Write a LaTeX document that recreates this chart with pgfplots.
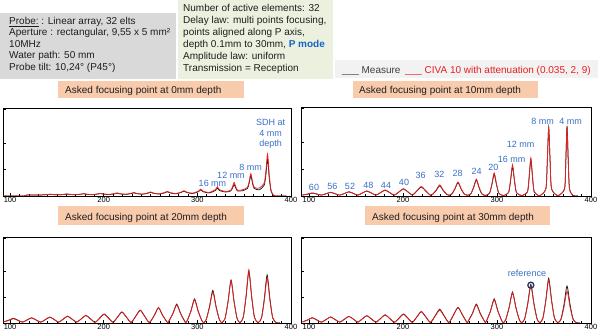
\documentclass[border=0pt]{standalone}
\usepackage{pgfplots}
\pgfplotsset{compat=1.18}
\usepackage{pgfplotstable}
\usepackage{fontspec}
\setmainfont{Liberation Sans}
\newcommand{\fs}[1]{\fontsize{#1}{#1}\selectfont}
\definecolor{grayfill}{RGB}{217,217,217}
\definecolor{greenfill}{RGB}{235,241,222}
\definecolor{legfill}{RGB}{242,242,242}
\definecolor{orangefill}{RGB}{248,203,173}
\definecolor{blueann}{RGB}{55,110,200}
\definecolor{pmode}{RGB}{20,100,200}
\definecolor{civared}{RGB}{235,30,30}
\definecolor{measblack}{RGB}{25,25,25}
\definecolor{textdark}{RGB}{30,30,30}
\definecolor{navy}{RGB}{31,56,100}
\definecolor{measgray}{RGB}{64,64,64}

% Panel 1: focusing at 0 mm
\pgfplotstableread{
x m c
92.5 0 0
115 0 0
118 0.012 0.010
133 0.012 0.012
139.9 0.016 0.016
142.9 0.020 0.020
145.9 0.016 0.016
151.8 0.013 0.013
157.7 0.018 0.019
160.7 0.022 0.024
163.7 0.018 0.019
169.6 0.014 0.015
175.6 0.020 0.021
178.6 0.025 0.027
181.6 0.020 0.021
187.5 0.015 0.016
193.4 0.022 0.023
196.4 0.028 0.030
199.4 0.022 0.023
205.4 0.016 0.018
211.3 0.024 0.027
214.3 0.032 0.035
217.3 0.024 0.027
223.2 0.018 0.020
229.1 0.027 0.030
232.1 0.036 0.040
235.1 0.027 0.030
241.1 0.020 0.022
247 0.031 0.034
250 0.042 0.046
253 0.031 0.034
258.9 0.022 0.025
264.9 0.035 0.039
267.9 0.048 0.053
270.9 0.035 0.039
276.8 0.025 0.028
282.7 0.040 0.044
285.7 0.055 0.060
288.7 0.040 0.044
294.6 0.028 0.032
301.1 0.049 0.055
303.6 0.070 0.078
306.1 0.049 0.055
312.5 0.035 0.040
319.2 0.062 0.072
321.4 0.090 0.105
323.6 0.062 0.072
330.4 0.045 0.050
335.7 0.058 0.066
337.5 0.088 0.103
339.3 0.130 0.155
341.1 0.088 0.103
342.9 0.058 0.066
348.2 0.060 0.070
353.5 0.086 0.098
355.3 0.145 0.163
357.1 0.230 0.255
358.9 0.145 0.163
360.7 0.086 0.098
366.1 0.070 0.090
371.4 0.123 0.149
373.2 0.245 0.285
375 0.420 0.480
376.8 0.200 0.240
378.6 0.060 0.070
381 0.010 0.010
383 0 0
395 0 0
}\pa

% Panel 2: focusing at 10 mm
\pgfplotstableread{
x m c
93 0.010 0.010
98.7 0.021 0.023
103.5 0.032 0.035
108.3 0.021 0.023
113.2 0.010 0.010
118.2 0.025 0.026
123 0.040 0.042
127.8 0.025 0.026
132.8 0.010 0.010
137.7 0.028 0.029
142.5 0.046 0.048
147.3 0.028 0.029
152 0.010 0.010
156.7 0.033 0.034
161.5 0.055 0.057
166.3 0.033 0.034
171.2 0.010 0.010
176.2 0.038 0.039
181 0.066 0.068
185.8 0.038 0.039
190.8 0.010 0.010
195.7 0.045 0.046
200.5 0.080 0.082
205.3 0.045 0.046
210 0.010 0.010
214.7 0.055 0.058
219.5 0.100 0.106
224.3 0.055 0.058
229.2 0.008 0.008
231.6 0.019 0.020
235.3 0.062 0.067
239 0.115 0.125
242.7 0.062 0.067
246.4 0.019 0.020
248.8 0.008 0.008
251.9 0.022 0.023
255.2 0.079 0.083
258.5 0.150 0.157
261.8 0.079 0.083
265.1 0.022 0.023
268.2 0.008 0.008
272.2 0.025 0.026
275.1 0.094 0.099
278 0.180 0.190
280.9 0.094 0.099
283.8 0.025 0.026
287.5 0.006 0.006
292 0.030 0.031
294.5 0.125 0.133
297 0.245 0.260
299.5 0.125 0.133
302 0.030 0.031
306.8 0.005 0.005
312.3 0.038 0.040
314.4 0.168 0.178
316.5 0.330 0.350
318.6 0.168 0.178
320.7 0.038 0.040
326.2 0.005 0.005
332.4 0.045 0.047
334.2 0.208 0.218
336 0.410 0.430
337.8 0.208 0.218
339.6 0.045 0.047
345.5 0.005 0.005
352 0.082 0.082
353.5 0.388 0.388
355 0.770 0.770
356.5 0.388 0.388
358 0.082 0.082
364.8 0.005 0.005
371.9 0.083 0.081
373.2 0.395 0.385
374.5 0.785 0.765
375.8 0.395 0.385
377.1 0.083 0.081
381 0.004 0.004
386 0.002 0.002
}\pb

% Panel 3: focusing at 20 mm
\pgfplotstableread{
x m c
93 0.012 0.012
98.7 0.033 0.030
103.5 0.055 0.050
108.3 0.033 0.030
113.2 0.010 0.010
118.2 0.035 0.035
123 0.060 0.060
127.8 0.035 0.035
132.8 0.010 0.010
137.7 0.039 0.040
142.5 0.068 0.070
147.3 0.039 0.040
152 0.010 0.010
156.7 0.044 0.045
161.5 0.078 0.080
166.3 0.044 0.045
171.2 0.010 0.010
176.2 0.049 0.050
181 0.088 0.090
185.8 0.049 0.050
190.8 0.008 0.008
195.7 0.057 0.054
200.5 0.105 0.100
205.3 0.057 0.054
210 0.008 0.008
214.7 0.067 0.069
219.5 0.125 0.130
224.3 0.067 0.069
229.2 0.007 0.007
234.2 0.079 0.076
239 0.150 0.145
243.8 0.079 0.076
248.8 0.006 0.006
254.3 0.093 0.093
258.5 0.180 0.180
262.7 0.093 0.093
268.2 0.005 0.005
269.8 0.027 0.026
273.9 0.112 0.107
278 0.220 0.210
282.1 0.112 0.107
286.2 0.027 0.026
287.6 0.005 0.005
289.4 0.033 0.032
293.2 0.142 0.137
297 0.280 0.270
300.8 0.142 0.137
304.6 0.033 0.032
306.8 0.004 0.004
309.5 0.042 0.040
313 0.192 0.182
316.5 0.380 0.360
320 0.192 0.182
323.5 0.042 0.040
326.2 0.004 0.004
329.6 0.054 0.053
332.8 0.252 0.247
336 0.500 0.490
339.2 0.252 0.247
342.4 0.054 0.053
345.5 0.004 0.004
349 0.064 0.066
352 0.302 0.312
355 0.600 0.620
358 0.302 0.312
361 0.064 0.066
364.8 0.004 0.004
368.5 0.060 0.056
371.5 0.282 0.262
374.5 0.560 0.520
377.5 0.282 0.262
380.5 0.060 0.056
384.5 0.003 0.003
388 0.002 0.002
}\pc

% Panel 4: focusing at 30 mm
\pgfplotstableread{
x m c
93 0.012 0.012
98.7 0.036 0.035
103.5 0.062 0.060
108.3 0.036 0.035
113.2 0.010 0.010
118.2 0.040 0.040
123 0.070 0.070
127.8 0.040 0.040
132.8 0.010 0.010
137.7 0.044 0.044
142.5 0.077 0.077
147.3 0.044 0.044
152 0.010 0.010
156.7 0.048 0.048
161.5 0.085 0.085
166.3 0.048 0.048
171.2 0.010 0.010
176.2 0.053 0.053
181 0.095 0.095
185.8 0.053 0.053
190.8 0.008 0.008
195.7 0.057 0.054
200.5 0.105 0.100
205.3 0.057 0.054
210 0.008 0.008
214.7 0.069 0.072
219.5 0.130 0.135
224.3 0.069 0.072
229.2 0.007 0.007
234.2 0.084 0.079
239 0.160 0.150
243.8 0.084 0.079
248.8 0.006 0.006
253.7 0.093 0.093
258.5 0.180 0.180
263.3 0.093 0.093
268.2 0.005 0.005
269.6 0.027 0.026
273.8 0.112 0.107
278 0.220 0.210
282.2 0.112 0.107
286.4 0.027 0.026
287.7 0.005 0.005
289.2 0.033 0.032
293.1 0.142 0.137
297 0.280 0.270
300.9 0.142 0.137
304.8 0.033 0.032
306.8 0.004 0.004
309.3 0.040 0.039
312.9 0.182 0.177
316.5 0.360 0.350
320.1 0.182 0.177
323.7 0.040 0.039
326.2 0.004 0.004
329.4 0.049 0.047
332.7 0.227 0.217
336 0.450 0.430
339.3 0.227 0.217
342.6 0.049 0.047
345.5 0.004 0.004
348.8 0.056 0.054
351.9 0.262 0.252
355 0.520 0.500
358.1 0.262 0.252
361.2 0.056 0.054
364.8 0.004 0.004
368.1 0.047 0.041
371.3 0.217 0.187
374.5 0.430 0.370
377.7 0.217 0.187
380.9 0.047 0.041
384.5 0.003 0.003
388 0.002 0.002
}\pd

\pgfplotsset{
  panel/.style={
    scale only axis,
    xmax=400, ymin=0, ymax=1,
    axis line style={line width=0.6pt, black},
    xtick={100,200,300,400},
    minor x tick num=9,
    ytick={0.3,0.6,0.99},
    yticklabels={},
    tick pos=left,
    tick align=inside,
    major tick length=3pt,
    minor tick length=2pt,
    tick style={black, line width=0.5pt},
    xticklabel style={font=\fs{7.5}, inner sep=1pt},
    /pgf/number format/assume math mode=true,
    clip=true,
  },
  meas/.style={measblack, line width=0.75pt, smooth, tension=0.4},
  civa/.style={civared, line width=0.75pt, smooth, tension=0.4},
}
\newcommand{\axdeco}{%
  \node[font=\fs{6.5}, anchor=base, inner sep=0] at (rel axis cs:0.5,1) [yshift=2pt] {SCANNING (mm)};
  \node[font=\fs{7}, rotate=-90, anchor=south, inner sep=0.4pt] at (rel axis cs:1,0.52) {AMPLITUDES (pts)};
}

\begin{document}
\begin{tikzpicture}
\path[use as bounding box] (0pt,0pt) rectangle (600pt,334pt);

% info boxes
\fill[grayfill] (0pt,255pt) rectangle (176pt,321pt);
\fill[greenfill] (178pt,255pt) rectangle (333pt,334pt);
\fill[legfill] (335pt,256pt) rectangle (598pt,274pt);

\begin{scope}[every node/.style={anchor=base west, inner sep=0, font=\fs{10}, text=textdark}]
\node at (9pt,309.5pt) {\underline{Probe:} : Linear array, 32 elts};
\node at (9pt,298pt) {Aperture : rectangular, 9,55 x 5 mm²};
\node at (9pt,286.5pt) {10MHz};
\node at (9pt,275pt) {Water path: 50 mm};
\node at (9pt,263.5pt) {Probe tilt: 10,24° (P45°)};

\node at (183pt,322.5pt) {Number of active elements: 32};
\node at (183pt,310.5pt) {Delay law: multi points focusing,};
\node at (183pt,298.5pt) {points aligned along P axis,};
\node at (183pt,286.5pt) {depth 0.1mm to 30mm, {\color{pmode}\bfseries P mode}};
\node at (183pt,274.5pt) {Amplitude law: uniform};
\node at (183pt,262.5pt) {Transmission = Reception};

\node[text=measgray] at (342pt,260.5pt) {\_\_\_\ Measure};
\node[text=civared] at (405pt,260.5pt) {\_\_\_\ CIVA 10 with attenuation (0.035, 2, 9)};
\end{scope}

% title boxes
\fill[orangefill] (58pt,236pt) rectangle (244pt,253pt);
\fill[orangefill] (353pt,236pt) rectangle (538pt,253pt);
\fill[orangefill] (58pt,109pt) rectangle (244pt,128pt);
\fill[orangefill] (365pt,109pt) rectangle (550pt,128pt);
\begin{scope}[every node/.style={anchor=base west, inner sep=0, font=\fs{10}, text=textdark}]
\node at (65pt,240.5pt) {Asked focusing point at 0mm depth};
\node at (359pt,240.5pt) {Asked focusing point at 10mm depth};
\node at (65pt,113.5pt) {Asked focusing point at 20mm depth};
\node at (372pt,113.5pt) {Asked focusing point at 30mm depth};
\end{scope}

% Panel 1
\begin{axis}[panel, at={(3pt,138pt)}, anchor=south west, width=288pt, height=88pt, xmin=92.5]
\addplot[meas] table[x=x,y=m]{\pa};
\addplot[civa] table[x=x,y=c]{\pa};
\axdeco
\end{axis}

% Panel 2
\begin{axis}[panel, at={(301pt,138pt)}, anchor=south west, width=290pt, height=89pt, xmin=91.5]
\addplot[meas] table[x=x,y=m]{\pb};
\addplot[civa] table[x=x,y=c]{\pb};
\axdeco
\end{axis}

% Panel 3
\begin{axis}[panel, at={(3pt,11pt)}, anchor=south west, width=288pt, height=86pt, xmin=92.5]
\addplot[meas] table[x=x,y=m]{\pc};
\addplot[civa] table[x=x,y=c]{\pc};
\axdeco
\end{axis}

% Panel 4
\begin{axis}[panel, at={(301pt,11pt)}, anchor=south west, width=290pt, height=86pt, xmin=91.5]
\addplot[meas] table[x=x,y=m]{\pd};
\addplot[civa] table[x=x,y=c]{\pd};
\addplot[only marks, mark=o, mark size=3pt, navy, mark options={line width=1.3pt}] coordinates {(336,0.44)};
\axdeco
\end{axis}

% annotations
\begin{scope}[every node/.style={anchor=base, inner sep=0, font=\fs{9}, text=blueann}]
\node at (270.7pt,208.1pt) {SDH at};
\node at (270.7pt,197.5pt) {4 mm};
\node at (270.7pt,187.5pt) {depth};
\node at (250.7pt,163.5pt) {8 mm};
\node at (231pt,155pt) {12 mm};
\node at (212.5pt,147.6pt) {16 mm};

\node at (314pt,143.1pt) {60};
\node at (332.3pt,144.1pt) {56};
\node at (350pt,144.1pt) {52};
\node at (368.3pt,145.5pt) {48};
\node at (386pt,145.5pt) {44};
\node at (404pt,148.8pt) {40};
\node at (420.7pt,155.8pt) {36};
\node at (439.3pt,156.8pt) {32};
\node at (457.7pt,157.5pt) {28};
\node at (476.7pt,159.1pt) {24};
\node at (493.3pt,163.5pt) {20};
\node at (511.7pt,171.8pt) {16 mm};
\node at (520.7pt,186.8pt) {12 mm};
\node at (542.7pt,209.1pt) {8 mm};
\node at (570.7pt,209.1pt) {4 mm};

\node at (527pt,57.8pt) {reference};
\end{scope}
\end{tikzpicture}
\end{document}
